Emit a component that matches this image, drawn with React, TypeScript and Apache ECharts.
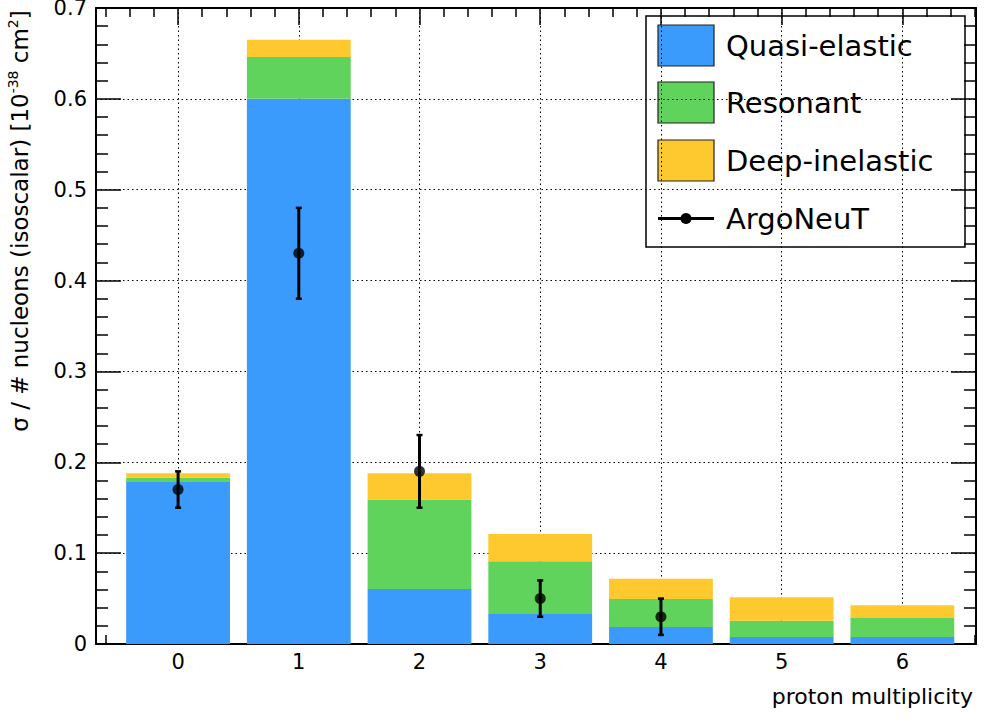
import React, { useEffect, useRef } from "react";
import * as echarts from "echarts";

// ---- data ----
const multiplicity = [0, 1, 2, 3, 4, 5, 6];
const quasiElastic = [0.179, 0.6, 0.0605, 0.033, 0.0187, 0.0077, 0.0077];
const resonant = [0.004, 0.046, 0.0985, 0.058, 0.0308, 0.018, 0.0209];
const deepInelastic = [0.005, 0.019, 0.029, 0.03, 0.0224, 0.0257, 0.014];

const argoX = [0, 1, 2, 3, 4];
const argoY = [0.17, 0.43, 0.19, 0.05, 0.03];
const argoLow = [0.15, 0.38, 0.15, 0.03, 0.01];
const argoHigh = [0.19, 0.48, 0.23, 0.07, 0.05];

const seriesNames = ["Quasi-elastic", "Resonant", "Deep-inelastic", "ArgoNeuT"];
const yTitle = { main: "σ / # nucleons (isoscalar) [10", exp1: "-38", unit: " cm", exp2: "2", close: "]" };
const xTitle = "proton multiplicity";

// ---- styles ----
const COLORS = ["#3b9bfc", "#5fd35c", "#fdc92f"];
const FONT = "DejaVu Sans";
const HALF_BAR = 0.43;

function stackRanges(components: number[][]) {
  const out: number[][][] = [];
  const base = multiplicity.map(() => 0);
  components.forEach((vals) => {
    out.push(
      multiplicity.map((x, i) => {
        const lo = base[i];
        const hi = lo + vals[i];
        base[i] = hi;
        return [x, lo, hi];
      })
    );
  });
  return out;
}

export default function App() {
  const ref = useRef<HTMLDivElement>(null);

  useEffect(() => {
    if (!ref.current) return;
    const chart = echarts.init(ref.current, null, { renderer: "svg" });
    const stacks = stackRanges([quasiElastic, resonant, deepInelastic]);

    const barSeries = stacks.map((data, k) => ({
      type: "custom",
      name: seriesNames[k],
      data,
      encode: { x: 0, y: [1, 2] },
      z: 2,
      renderItem: (params: any, api: any) => {
        const x = api.value(0);
        const lo = api.value(1);
        const hi = api.value(2);
        const p1 = api.coord([x - HALF_BAR, hi]);
        const p2 = api.coord([x + HALF_BAR, lo]);
        return {
          type: "rect",
          shape: { x: p1[0], y: p1[1], width: p2[0] - p1[0], height: p2[1] - p1[1] },
          style: { fill: COLORS[k] },
        };
      },
    }));

    const errData = argoX.map((x, i) => [x, argoLow[i], argoHigh[i]]);
    const errSeries = {
      type: "custom",
      name: seriesNames[3] + " errors",
      data: errData,
      encode: { x: 0, y: [1, 2] },
      z: 4,
      renderItem: (params: any, api: any) => {
        const x = api.value(0);
        const lo = api.coord([x, api.value(1)]);
        const hi = api.coord([x, api.value(2)]);
        const cap = 3;
        return {
          type: "group",
          children: [
            { type: "line", shape: { x1: lo[0], y1: lo[1], x2: hi[0], y2: hi[1] }, style: { stroke: "#000", lineWidth: 3 } },
            { type: "line", shape: { x1: lo[0] - cap, y1: lo[1], x2: lo[0] + cap, y2: lo[1] }, style: { stroke: "#000", lineWidth: 2.5 } },
            { type: "line", shape: { x1: hi[0] - cap, y1: hi[1], x2: hi[0] + cap, y2: hi[1] }, style: { stroke: "#000", lineWidth: 2.5 } },
          ],
        };
      },
    };

    const pointSeries = {
      type: "scatter",
      name: seriesNames[3],
      data: argoX.map((x, i) => [x, argoY[i]]),
      symbol: "circle",
      symbolSize: 11,
      itemStyle: { color: "#000" },
      z: 5,
    };

    const tickLine = { color: "#000", width: 1.5 };
    const xCommon = {
      type: "value",
      min: -0.68,
      max: 6.61,
      splitNumber: 7,
      axisLine: { show: true, onZero: false, lineStyle: { color: "#000", width: 2 } },
      axisTick: { show: true, inside: true, length: 17, lineStyle: tickLine },
      minorTick: { show: true, splitNumber: 5, length: 9, lineStyle: tickLine },
    };
    const yCommon = {
      type: "value",
      min: 0,
      max: 0.7,
      interval: 0.1,
      axisLine: { show: true, onZero: false, lineStyle: { color: "#000", width: 2 } },
      axisTick: { show: true, inside: true, length: 25, lineStyle: tickLine },
      minorTick: { show: true, splitNumber: 5, length: 12, lineStyle: tickLine },
    };
    const dotted = { show: true, lineStyle: { color: "#000", width: 1, type: [1.5, 3] } };

    const legendTop = [25, 82, 140, 198];
    const legendChildren: any[] = [
      {
        type: "rect",
        shape: { x: 646, y: 16, width: 319, height: 231 },
        style: { fill: "#fff", stroke: "#000", lineWidth: 1.5 },
      },
    ];
    for (let k = 0; k < 3; k++) {
      legendChildren.push({
        type: "rect",
        shape: { x: 658, y: legendTop[k], width: 56, height: 41 },
        style: { fill: COLORS[k], stroke: "#222", lineWidth: 1.2 },
      });
    }
    legendChildren.push(
      { type: "line", shape: { x1: 658, y1: 218.5, x2: 714, y2: 218.5 }, style: { stroke: "#000", lineWidth: 3 } },
      { type: "circle", shape: { cx: 686, cy: 218.5, r: 5.5 }, style: { fill: "#000" } }
    );
    seriesNames.forEach((name, k) => {
      legendChildren.push({
        type: "text",
        x: 726,
        y: legendTop[k] + 20.5,
        style: { text: name, fontSize: 29, fontFamily: FONT, fill: "#000", align: "left", verticalAlign: "middle" },
      });
    });

    chart.setOption({
      animation: false,
      backgroundColor: "#fff",
      textStyle: { fontFamily: FONT },
      grid: { left: 96, top: 8, right: 22, bottom: 78, containLabel: false, outerBoundsMode: "none" },
      xAxis: [
        {
          ...xCommon,
          position: "bottom",
          axisLabel: {
            show: true,
            color: "#000",
            fontSize: 21,
            fontFamily: FONT,
            margin: 7,
            showMinLabel: false,
            showMaxLabel: false,
            formatter: (v: number) => (Number.isInteger(v) ? String(Math.abs(v)) : ""),
          },
          splitLine: dotted,
        },
        { ...xCommon, position: "top", axisLabel: { show: false }, splitLine: { show: false } },
      ],
      yAxis: [
        {
          ...yCommon,
          position: "left",
          axisLabel: { show: true, color: "#000", fontSize: 21, fontFamily: FONT, margin: 9 },
          splitLine: dotted,
        },
        { ...yCommon, position: "right", axisLabel: { show: false }, splitLine: { show: false } },
      ],
      series: [...barSeries, errSeries, pointSeries],
      graphic: [
        {
          type: "text",
          x: 20,
          y: 221,
          rotation: Math.PI / 2,
          z: 50,
          style: {
            text: `{a|${yTitle.main}}{s|${yTitle.exp1}}{a|${yTitle.unit}}{s|${yTitle.exp2}}{a|${yTitle.close}}`,
            align: "center",
            verticalAlign: "middle",
            fill: "#000",
            rich: {
              a: { fontSize: 23, fontFamily: FONT, lineHeight: 28, fill: "#000" },
              s: { fontSize: 14, fontFamily: FONT, lineHeight: 14, verticalAlign: "top", fill: "#000" },
            },
          },
        },
        {
          type: "text",
          x: 973,
          y: 696,
          z: 50,
          style: { text: xTitle, fontSize: 22, fontFamily: FONT, fill: "#000", align: "right", verticalAlign: "middle" },
        },
        { type: "group", z: 100, children: legendChildren },
      ],
    });

    return () => chart.dispose();
  }, []);

  return <div ref={ref} style={{ position: "fixed", left: 0, top: 0, width: 998, height: 722 }} />;
}
